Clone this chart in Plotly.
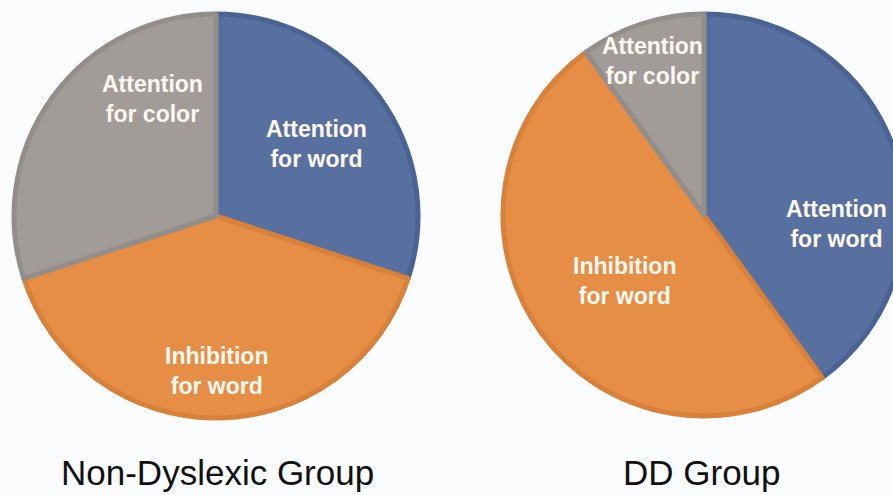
import plotly.graph_objects as go

# Share of processing per component
categories = ["Attention for word", "Inhibition for word", "Attention for color"]
non_dyslexic = [30, 40, 30]
dd_group = [40, 50, 10]
group_titles = ["Non-Dyslexic Group", "DD Group"]

fill_colors = ["#58709F", "#E68E46", "#A29C99"]
edge_colors = ["#4B6392", "#D8813B", "#948E8B"]

W, H = 905, 495
BG = "#FAFBFD"


def px_x(x):
    return x / W


def px_y(y):
    return 1 - y / H


fig = go.Figure()

# pie extents in pixels: (left, right, top, bottom)
pie_boxes = [(14, 418, 14, 418), (503, 905, 14, 416)]
for vals, (l, r, t, b) in zip([non_dyslexic, dd_group], pie_boxes):
    fig.add_trace(go.Pie(
        labels=categories,
        values=vals,
        sort=False,
        direction="clockwise",
        rotation=0,
        textinfo="none",
        hoverinfo="label+percent",
        marker=dict(colors=fill_colors, line=dict(color=edge_colors, width=5)),
        domain=dict(x=[px_x(l), px_x(r)], y=[px_y(b), px_y(t)]),
        showlegend=False,
    ))

label_font = dict(family="Liberation Sans, Arial, sans-serif", size=23, color="#FFF8F0")

# slice label placements (pixel centres) for each pie, in category order
label_spots = [
    [(316, 144), (216, 371), (152, 99)],
    [(836, 224), (624, 281), (652, 61)],
]
annotations = []
for spots in label_spots:
    for name, (x, y) in zip(categories, spots):
        first, rest = name.split(" ", 1)
        annotations.append(dict(
            x=px_x(x), y=px_y(y), xref="paper", yref="paper",
            text=f"<b>{first}<br>{rest}</b>", showarrow=False,
            xanchor="center", yanchor="middle", align="center",
            font=label_font,
        ))

title_font = dict(family="Liberation Sans, Arial, sans-serif", size=35, color="#111111")
for title, cx in zip(group_titles, [217, 702]):
    annotations.append(dict(
        x=px_x(cx), y=px_y(494), xref="paper", yref="paper",
        text=title, showarrow=False, xanchor="center", yanchor="bottom",
        font=title_font,
    ))

fig.update_layout(
    width=W, height=H,
    margin=dict(l=0, r=0, t=0, b=0),
    paper_bgcolor=BG, plot_bgcolor=BG,
    annotations=annotations,
)

fig.write_html(
    "out.html",
    post_script="document.body.style.margin='0';document.body.style.overflow='hidden';document.documentElement.style.overflow='hidden';",
)
